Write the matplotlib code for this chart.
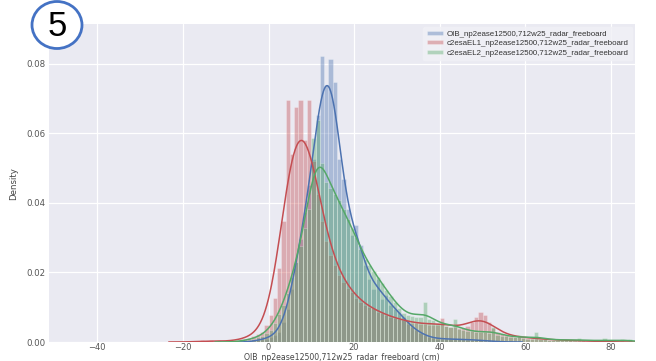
import numpy as np
import matplotlib
matplotlib.use("Agg")
import matplotlib.pyplot as plt
import seaborn as sns
from matplotlib.patches import Ellipse

# ---------------- data (density per 1 cm bin, bins start at -20 cm) ----------------
bin_start = -20
bin_width = 1.0
labels = ["OIB_np2ease12500,712w25_radar_freeboard",
          "c2esaEL1_np2ease12500,712w25_radar_freeboard",
          "c2esaEL2_np2ease12500,712w25_radar_freeboard"]

oib = [
    0, 0, 0, 0, 0, 0, 0, 0, 0, 0,                                              # -20..-11
    0, 0, 0, 0, 0, 0, 0.0003, 0.0005, 0.0008, 0.001,                           # -10..-1
    0.0015, 0.002, 0.003, 0.006, 0.010, 0.016, 0.024, 0.031, 0.039, 0.047,     # 0..9
    0.055, 0.068, 0.086, 0.077, 0.085, 0.078, 0.055, 0.049, 0.040, 0.032,      # 10..19
    0.035, 0.029, 0.023, 0.019, 0.016, 0.019, 0.013, 0.014, 0.011, 0.010,      # 20..29
    0.009, 0.0075, 0.0055, 0.0045, 0.0035, 0.0028, 0.002, 0.0015, 0.0012, 0.001,   # 30..39
    0.001, 0.0009, 0.0009, 0.0008, 0.0008, 0.0008, 0.0007, 0.0007, 0.0006, 0.0005,  # 40..49
    0.0004, 0.0003, 0.0002, 0.0001, 0.0001, 0, 0, 0, 0, 0,                     # 50..59
    0, 0, 0, 0, 0, 0, 0, 0, 0, 0,                                              # 60..69
    0, 0, 0, 0, 0, 0, 0, 0, 0, 0,                                              # 70..79
    0, 0, 0, 0, 0,                                                             # 80..84
]

el1 = [
    0, 0, 0, 0, 0.0006, 0, 0.0006, 0, 0.0006, 0,                               # -20..-11
    0, 0.0003, 0.0005, 0.0008, 0.001, 0.0012, 0.0018, 0.0025, 0.003, 0.005,    # -10..-1
    0.008, 0.013, 0.022, 0.036, 0.072, 0.056, 0.070, 0.072, 0.060, 0.072,      # 0..9
    0.054, 0.044, 0.036, 0.030, 0.026, 0.023, 0.020, 0.018, 0.016, 0.015,      # 10..19
    0.013, 0.012, 0.011, 0.0105, 0.010, 0.009, 0.0085, 0.008, 0.0075, 0.0072,  # 20..29
    0.0068, 0.0065, 0.006, 0.0058, 0.0056, 0.0055, 0.0054, 0.0052, 0.0052, 0.005,  # 30..39
    0.0072, 0.0048, 0.0045, 0.0044, 0.0042, 0.0042, 0.0048, 0.006, 0.0075, 0.009,  # 40..49
    0.008, 0.006, 0.0042, 0.003, 0.0025, 0.002, 0.0018, 0.0016, 0.0015, 0.0014,   # 50..59
    0.0013, 0.0012, 0.001, 0.0009, 0.0008, 0.0007, 0.0007, 0.0006, 0.0006, 0.0005,  # 60..69
    0.0005, 0.0004, 0.0004, 0.0003, 0.0003, 0.0002, 0.0002, 0.0002, 0.0001, 0.0001,  # 70..79
    0, 0, 0, 0, 0,                                                             # 80..84
]

el2 = [
    0, 0, 0, 0, 0, 0, 0, 0, 0, 0,                                              # -20..-11
    0, 0, 0, 0.0003, 0.0005, 0.0008, 0.001, 0.0015, 0.002, 0.003,              # -10..-1
    0.004, 0.006, 0.009, 0.012, 0.016, 0.021, 0.026, 0.031, 0.037, 0.043,      # 0..9
    0.066, 0.072, 0.058, 0.052, 0.050, 0.048, 0.046, 0.043, 0.040, 0.037,      # 10..19
    0.034, 0.030, 0.027, 0.025, 0.023, 0.021, 0.019, 0.017, 0.015, 0.013,      # 20..29
    0.011, 0.0095, 0.0088, 0.0084, 0.0082, 0.008, 0.013, 0.0076, 0.007, 0.0063,  # 30..39
    0.0058, 0.0053, 0.0048, 0.0075, 0.0043, 0.0039, 0.0037, 0.0035, 0.0034, 0.0032,  # 40..49
    0.0031, 0.0029, 0.005, 0.0024, 0.0021, 0.0019, 0.0017, 0.0015, 0.0024, 0.0012,  # 50..59
    0.0011, 0.001, 0.0034, 0.0009, 0.0009, 0.0008, 0.0008, 0.0007, 0.0007, 0.0006,  # 60..69
    0.0006, 0.0005, 0.0012, 0.0005, 0.0004, 0.0004, 0.0004, 0.0004, 0.0012, 0.0003,  # 70..79
    0.0003, 0.0003, 0.0011, 0.0003, 0.001,                                     # 80..84
]

x_ticks = [-40, -20, 0, 20, 40, 60, 80]
y_ticks = [0.00, 0.02, 0.04, 0.06, 0.08]

# ---------------- style ----------------
sns.set_style("darkgrid")
plt.rcParams["font.family"] = ["DejaVu Sans"]
colors = ["#4C72B0", "#C44E52", "#55A868"]
bandwidths = [1.6, 2.6, 2.0]

W, H = 656, 361
fig = plt.figure(figsize=(W / 100, H / 100), dpi=100)
left, right, top, bottom = 49.3, 635, 24.3, 342
ax_h = bottom - top
ax = fig.add_axes([left / W, 1 - bottom / H, (right - left) / W, ax_h / H])
ax.set_facecolor("#EAEAF2")

n_bins = len(oib)
edges = bin_start + bin_width * np.arange(n_bins + 1)
centers = edges[:-1] + bin_width / 2

for vals, col, lab, bw in zip([oib, el1, el2], colors, labels, bandwidths):
    w = np.asarray(vals, dtype=float)
    ax.hist(centers, bins=edges, weights=w, density=True, color=col, alpha=0.4,
            edgecolor="white", linewidth=0.4, label=lab, zorder=2)
    nz = centers[w > 0]
    grid = np.linspace(nz.min() - 3 * bw, nz.max() + 3 * bw, 600)
    k = np.exp(-0.5 * ((grid[:, None] - centers[None, :]) / bw) ** 2) / (bw * np.sqrt(2 * np.pi))
    dens = (k * w[None, :]).sum(axis=1) / w.sum()
    ax.plot(grid, dens, color=col, lw=1.1, zorder=3)

ax.set_xlim(-51.2, 85.6)
ax.set_ylim(0, 0.0914)
ax.set_xticks(x_ticks)
ax.set_yticks(y_ticks)
ax.set_yticklabels([f"{v:.2f}" for v in y_ticks])
ax.tick_params(axis="y", labelsize=6.2, colors="#555555", pad=3, length=0)
ax.tick_params(axis="x", labelsize=6.0, colors="#555555", pad=0.8, length=0)
ax.grid(True, color="white", lw=0.9)
for s in ax.spines.values():
    s.set_visible(False)
ax.set_xlabel("OIB_np2ease12500,712w25_radar_freeboard (cm)", fontsize=5.6,
              color="#444444")
ax.xaxis.set_label_coords(0.5, -(353.2 - bottom) / ax_h)
ax.set_ylabel("Density", fontsize=6.2, color="#444444", labelpad=6)

leg = ax.legend(loc="upper right", frameon=True, handlelength=2.0,
                handleheight=0.45, borderpad=0.45, labelspacing=0.32,
                handletextpad=0.5, borderaxespad=0.35,
                prop={"family": ["Liberation Sans", "DejaVu Sans"], "size": 5.7})
leg.get_frame().set_facecolor("#F1F1F6")
leg.get_frame().set_edgecolor("#F1F1F6")
for t in leg.get_texts():
    t.set_color("#333333")

# circled number
circ = Ellipse((57 / W, 1 - 25 / H), 50 / W, 47 / H, transform=fig.transFigure,
               facecolor="white", edgecolor="#4472C4", lw=2.0, zorder=10)
fig.add_artist(circ)
fig.text(57 / W, 1 - 26 / H, "5", fontsize=25, ha="center", va="center",
         family=["Liberation Sans", "DejaVu Sans"], color="black", zorder=11)

fig.savefig("out.png", dpi=100)
